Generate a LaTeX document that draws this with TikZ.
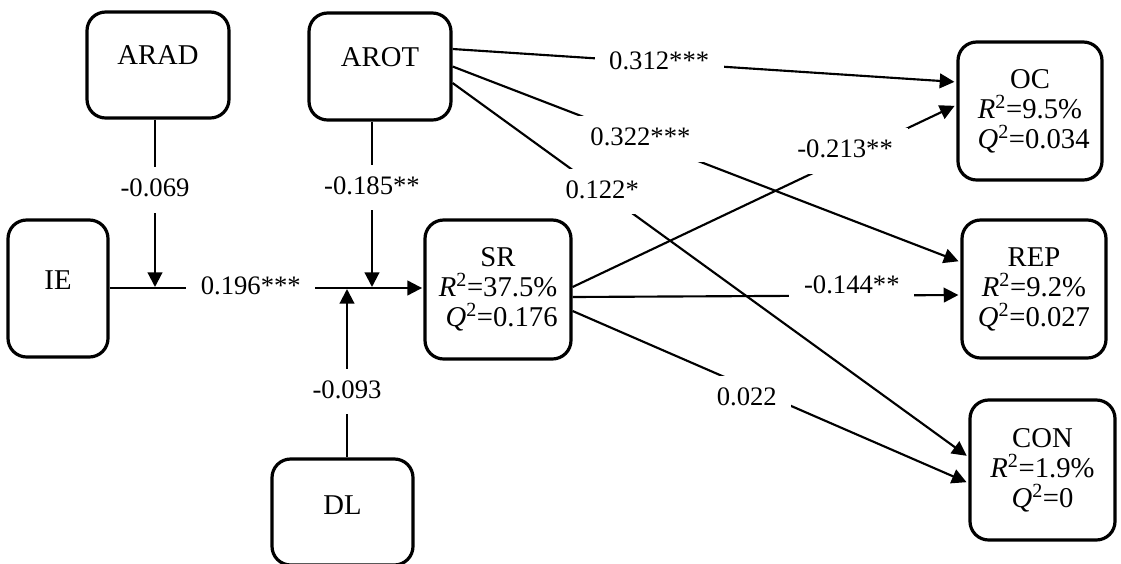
\documentclass[tikz,border=0pt]{standalone}
\usepackage{fontspec}
\setmainfont{Liberation Serif}
\usetikzlibrary{arrows.meta,calc}
\newcommand{\rsq}[1]{\textit{R}\textsuperscript{2}=#1}
\newcommand{\qsq}[1]{\textit{Q}\textsuperscript{2}=#1}
\begin{document}
\begin{tikzpicture}[x=0.75pt,y=-0.75pt,
  box/.style={draw, line width=2.4pt, rounded corners=14pt, inner sep=0pt,
    align=center, font=\fontsize{21.5}{22.5}\selectfont},
  single/.style={text height=14.5pt},
  link/.style={line width=1.6pt, -{Triangle[length=11pt,width=11pt]}, shorten >=1.5pt},
  coef/.style={fill=white, inner xsep=11pt, inner ysep=8pt,
    font=\fontsize{20}{24}\selectfont, text height=14pt, text depth=4pt}
]
\useasboundingbox (0,0) rectangle (1121,564);

% constructs
\node[box, single, text depth=15pt, minimum width=106.5pt, minimum height=79.5pt] (ARAD) at (158,65) {ARAD};
\node[box, single, text depth=14pt, minimum width=106.5pt, minimum height=80.25pt] (AROT) at (380,66.5) {AROT};
\node[box, single, text depth=13pt, minimum width=75pt, minimum height=102.75pt] (IE) at (58,288.5) {IE};
\node[box, single, text depth=11pt, minimum width=105.75pt, minimum height=79.5pt] (DL) at (342.5,512) {DL};
\node[box, minimum width=109.5pt, minimum height=104.25pt] (SR) at (498,289.5) {SR\\\rsq{37.5\%}\\\ \qsq{0.176}};
\node[box, minimum width=108pt, minimum height=103.5pt] (OC) at (1030,111) {OC\\\rsq{9.5\%}\\\ \qsq{0.034}};
\node[box, minimum width=108pt, minimum height=103.5pt] (REP) at (1034,289) {REP\\\rsq{9.2\%}\\\qsq{0.027}};
\node[box, minimum width=108.75pt, minimum height=105pt] (CON) at (1042.5,470) {CON\\\rsq{1.9\%}\\\qsq{0}};

% main path and moderator junctions
\coordinate (main) at (0,288);
\coordinate (ja) at (155,287);
\coordinate (jb) at (372,287);
\coordinate (jc) at (347,289);

\draw[link, shorten >=1pt] (IE.east |- main) -- node[coef, pos=0.45] {0.196***} (SR.west |- main);
\draw[link, shorten >=0pt] (ARAD.south -| ja) -- node[coef, pos=0.42] {-0.069} (ja);
\draw[link, shorten >=0pt] (AROT.south -| jb) -- node[coef, pos=0.40] {-0.185**} (jb);
\draw[link, shorten >=0pt] (DL.north -| jc) -- node[coef, pos=0.39] {-0.093} (jc);

% effects of AROT
\draw[link] ($(AROT.east)+(0,-17.5)$) -- node[coef, pos=0.41] {0.312***} ($(OC.west)+(0,-29)$);
\draw[link] (AROT.east) -- node[coef, pos=0.37] {0.322***} ($(REP.west)+(0,-27)$);
\draw[link] ($(AROT.east)+(0,16.5)$) -- node[coef, pos=0.29] {0.122*} ($(CON.west)+(0,-13)$);

% effects of SR
\draw[link] ($(SR.east)+(0,-2.5)$) -- node[coef, pos=0.71, yshift=5pt] {-0.213**} ($(OC.west)+(0,-6)$);
\draw[link] ($(SR.east)+(0,7.5)$) -- node[coef, pos=0.72, yshift=6.75pt] {-0.144**} ($(REP.west)+(0,6)$);
\draw[link] ($(SR.east)+(0,21.5)$) -- node[coef, pos=0.44, yshift=-9pt] {0.022} ($(CON.west)+(0,13)$);
\end{tikzpicture}
\end{document}
